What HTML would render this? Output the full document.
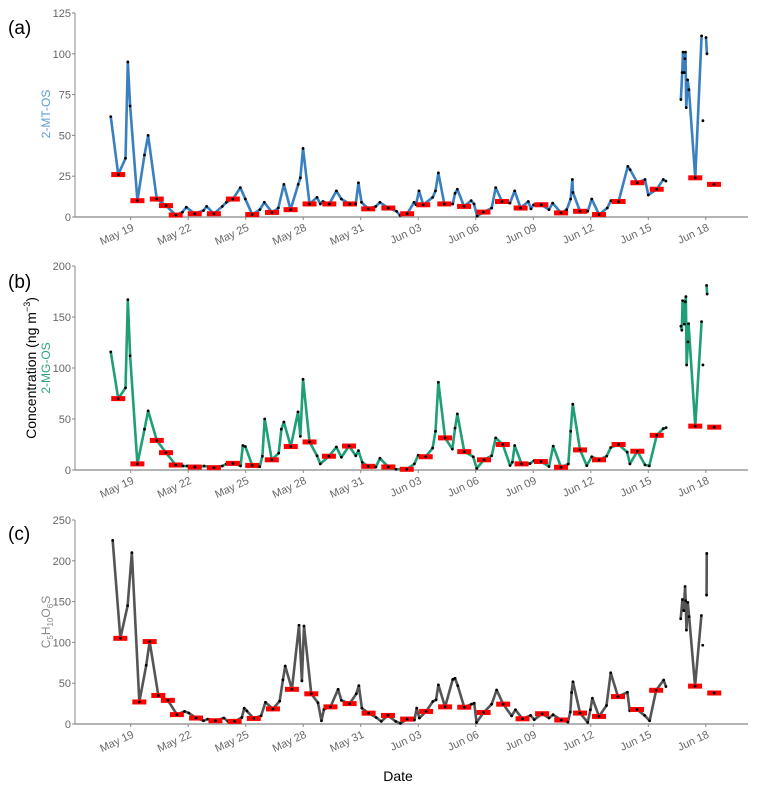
<!DOCTYPE html>
<html><head><meta charset="utf-8">
<style>
html,body{margin:0;padding:0;background:#fff;}
svg{display:block;font-family:"Liberation Sans",sans-serif;}
</style></head>
<body>
<svg id="chart" width="762" height="792" viewBox="0 0 762 792" xmlns="http://www.w3.org/2000/svg">
<text x="8" y="34" font-size="19" fill="#000">(a)</text>
<text x="8" y="288" font-size="19" fill="#000">(b)</text>
<text x="8" y="540" font-size="19" fill="#000">(c)</text>
<text transform="translate(50,114) rotate(-90)" text-anchor="middle" font-size="12" fill="#5b9bd5">2-MT-OS</text>
<text transform="translate(50,368) rotate(-90)" text-anchor="middle" font-size="12" fill="#2aa37e">2-MG-OS</text>
<text transform="translate(36,368) rotate(-90)" text-anchor="middle" font-size="14" fill="#000">Concentration  (ng m<tspan font-size="9" dy="-6">−3</tspan><tspan dy="6">)</tspan></text>
<text transform="translate(50,622) rotate(-90)" text-anchor="middle" font-size="12" fill="#888">C<tspan font-size="8" dy="3">5</tspan><tspan dy="-3">H</tspan><tspan font-size="8" dy="3">10</tspan><tspan dy="-3">O</tspan><tspan font-size="8" dy="3">6</tspan><tspan dy="-3">S</tspan></text>
<text x="398" y="781" text-anchor="middle" font-size="14" fill="#000">Date</text>
</svg>
<script>
const xTickLabels = ["May 19","May 22","May 25","May 28","May 31","Jun 03","Jun 06","Jun 09","Jun 12","Jun 15","Jun 18"];
const xTickDays = [0,3,6,9,12,15,18,21,24,27,30];
const aTicks = [0,25,50,75,100,125];
const bTicks = [0,50,100,150,200];
const cTicks = [0,50,100,150,200,250];

const aDays = [-1.04,-0.65,-0.27,-0.15,-0.03,0.35,0.72,0.91,1.36,1.84,2.35,2.7,2.9,3.34,3.8,3.96,4.34,4.78,4.99,5.33,5.72,5.98,6.34,6.74,6.97,7.37,7.7,7.99,8.34,8.74,8.85,8.99,9.33,9.72,9.89,10.03,10.36,10.73,10.99,11.43,11.74,11.88,12.04,12.39,12.79,13,13.44,13.87,14.05,14.42,14.78,14.88,15.04,15.26,15.75,15.9,16.05,16.36,16.8,16.92,17.04,17.39,17.76,17.91,18.07,18.4,18.83,19.04,19.37,19.78,20.03,20.34,20.74,20.88,21.02,21.42,21.82,22.01,22.45,22.74,22.95,23.04,23.07,23.44,23.84,24.05,24.43,24.86,25.05,25.45,25.93,26.05,26.43,26.83,27,27.44,27.78,27.92,null,28.7,28.77,28.81,28.88,28.91,28.94,28.98,29.05,29.12,29.45,29.78,null,29.85,null,30.01,30.06,null,30.43];
const aVals = [61.5,26,36,95,68,10,38,50,11,7,1.2,3,6,2,4,6.5,2,6.5,9,11,18,11,1.5,4.5,9,2.8,5.5,20,4.5,20,24,42,8,12,8,9.5,8,16,11,8,8,21,9,5,6.5,9,5.5,3.5,1,2,9,7.5,16,7.5,12,16,27,8,8,14.5,17,6.5,10,8,0.5,3,5.5,18,9.5,8.5,16,5.5,9.5,5,7.5,7.5,4.5,8.5,2.5,4.5,11,23,15,3.5,3.5,11,1.5,5.5,10,9.5,31,29,21,23,13.5,17,23,22,null,72,88.5,101,88.5,97,101,67,84,78,24,111,null,59,null,110,100,null,20];
const aFilter = [0,1,0,0,0,1,0,0,1,1,1,0,0,1,0,0,1,0,0,1,0,0,1,0,0,1,0,0,1,0,0,0,1,0,0,0,1,0,0,1,0,0,0,1,0,0,1,0,0,1,0,0,0,1,0,0,0,1,0,0,0,1,0,0,0,1,0,0,1,0,0,1,0,0,0,1,0,0,1,0,0,0,0,1,0,0,1,0,0,1,0,0,1,0,0,1,0,0,0,0,0,0,0,0,0,0,0,0,1,0,0,0,0,0,0,0,1];

const bDays = [-1.04,-0.65,-0.27,-0.15,-0.03,0.35,0.72,0.91,1.36,1.84,2.35,2.73,2.94,3.34,3.83,4.34,4.78,4.99,5.33,5.73,5.85,5.98,6.34,6.73,6.87,6.99,7.36,7.72,7.86,7.99,8.35,8.73,8.85,8.99,9.33,9.72,9.89,10.34,10.73,10.99,11.39,11.74,11.88,12.08,12.39,12.79,13,13.44,13.84,14.4,14.8,15.0,15.39,15.75,15.9,16.05,16.4,16.78,16.92,17.04,17.4,17.87,18.05,18.43,18.83,19.04,19.41,19.79,19.91,20.03,20.39,20.83,21.04,21.4,21.82,22.04,22.45,22.83,22.95,23.06,23.44,23.79,24.05,24.43,24.83,25.04,25.45,25.9,26.04,26.43,26.83,27.05,27.44,27.78,27.93,null,28.7,28.75,28.79,28.88,28.93,28.96,29,29.07,29.1,29.45,29.78,null,29.85,null,30.04,30.07,null,30.44];
const bVals = [115.8,70,80.5,167,112,6,40,58,29,17,4.9,4,3.9,2.9,3.9,2.3,3.9,6,6.5,4,24,23,4.5,3.3,13.5,50,10,16.5,40,47,23,57,33,89,27.5,14,6,13.5,22.5,12.5,23.5,14,19,7.5,3.6,3,11.5,3,0.7,0.7,6,14.5,13,21.5,38,86,31.5,20.5,41,55,18,13,1.6,10,14,31.5,25,4.4,7.6,24,6,6.3,9.2,8.3,3.4,23.4,2.7,5.9,38,64.5,19.7,4.3,13,10,13.6,22,25,17.5,6,18.4,5,4,34,40.5,41.5,null,141,137,166,143,165,170,103,125.6,143.5,43,145.5,null,103,null,181,172.5,null,42];
const bFilter = [0,1,0,0,0,1,0,0,1,1,1,0,0,1,0,1,0,0,1,0,0,0,1,0,0,0,1,0,0,0,1,0,0,0,1,0,0,1,0,0,1,0,0,0,1,0,0,1,0,1,0,0,1,0,0,0,1,0,0,0,1,0,0,1,0,0,1,0,0,0,1,0,0,1,0,0,1,0,0,0,1,0,0,1,0,0,1,0,0,1,0,0,1,0,0,0,0,0,0,0,0,0,0,0,0,1,0,0,0,0,0,0,0,1];

const cDays = [-0.94,-0.54,-0.16,0.06,0.45,0.81,0.99,1.44,1.94,2.41,2.81,3.03,3.41,3.8,4.02,4.42,4.86,5.07,5.42,5.8,5.92,6.06,6.42,6.8,7.03,7.42,7.77,7.94,8.06,8.41,8.78,8.93,9.04,9.42,9.77,9.95,10.08,10.42,10.82,10.99,11.42,11.77,11.9,12.06,12.41,12.81,13.07,13.42,13.82,14.07,14.42,14.8,14.92,15.06,15.41,15.76,15.93,16.05,16.4,16.8,16.92,17.06,17.4,17.78,17.92,18.04,18.41,18.83,19.09,19.43,19.87,20.07,20.44,20.86,21.05,21.46,21.82,22.03,22.46,22.81,22.93,23,23.07,23.44,23.84,23.98,24.08,24.43,24.82,25.04,25.42,25.91,26.03,26.41,26.81,27.07,27.41,27.8,27.92,null,28.69,28.78,28.85,28.92,28.95,28.99,29.06,29.13,29.44,29.77,null,29.84,null,30.04,30.05,null,30.44];
const cVals = [225,105,145,210,27,72,101,35,29,11.5,15.5,13.5,7.3,4,6,4,7.3,3.2,3.2,8,19.4,16,6.8,10,26.6,18.5,28,54,71,42.5,121,52.9,120,37,26,4,18,21,42.5,29,25,37,47,19.4,13.3,8,3.2,10.5,3.2,0.8,6,4.9,19.4,7.3,15.4,27.6,29.6,47.9,21,54.7,56,47,20.6,24.3,25.5,1.9,14.1,24.3,41.7,24.3,10,17.4,6.4,10.5,5.3,12.6,7.3,11.4,4.9,2.4,14.6,38.5,51.8,13.4,2,17.4,31.6,9.3,22.6,62.7,33.6,38.9,16.2,17.8,10.5,4,41.3,53.9,45.8,null,129,152.5,139,168.5,151,115,149,131.6,46.4,133,null,96.5,null,158,209,null,38];
const cFilter = [0,1,0,0,1,0,1,1,1,1,0,0,1,0,0,1,0,0,1,0,0,0,1,0,0,1,0,0,0,1,0,0,0,1,0,0,0,1,0,0,1,0,0,0,1,0,0,1,0,0,1,0,0,0,1,0,0,0,1,0,0,0,1,0,0,0,1,0,0,1,0,0,1,0,0,1,0,0,1,0,0,0,0,1,0,0,0,1,0,0,1,0,0,1,0,0,1,0,0,0,0,0,0,0,0,0,0,0,1,0,0,0,0,0,0,0,1];

const NS = "http://www.w3.org/2000/svg";
const svg = document.getElementById('chart');
function mk(tag, attrs, parent){const e=document.createElementNS(NS,tag);for(const k in attrs)e.setAttribute(k,attrs[k]);(parent||svg).appendChild(e);return e;}
const xScale = d => 130.7 + 19.17*d;
const xLeft = 75, xRight = 748;

function panel(id, y0, yTop, max, ticks, days, vals, filt, color){
  const yScale = v => y0 - (y0-yTop)*v/max;
  const g = mk('g',{});
  
  
  const yAx = mk('line',{x1:xLeft,x2:xLeft,y1:yTop,y2:y0,stroke:'#888','stroke-width':1},g);
  
  
  const xAx = mk('line',{x1:xLeft,x2:xRight,y1:y0,y2:y0,stroke:'#888','stroke-width':1.2},g);
  
  
  ticks.forEach(t=>{
    const y=yScale(t);
    mk('line',{x1:xLeft-3,x2:xLeft,y1:y,y2:y,stroke:'#888'},g);
    const tx=mk('text',{x:xLeft-4,y:y+4,'text-anchor':'end','font-size':11,fill:'#666'},g);
    tx.textContent=t;
    
    
  });
  xTickDays.forEach((d,i)=>{
    const x=xScale(d);
    mk('line',{x1:x,x2:x,y1:y0,y2:y0+3,stroke:'#888'},g);
    const tx=mk('text',{transform:`translate(${x+4},${y0+13}) rotate(-25)`,'text-anchor':'end','font-size':11,fill:'#666'},g);
    tx.textContent=xTickLabels[i];
    
    
  });
  // line segments
  let segs=[],cur=[];
  days.forEach((d,i)=>{ if(d===null||vals[i]===null){ if(cur.length) segs.push(cur); cur=[]; } else cur.push([xScale(d),yScale(vals[i])]); });
  if(cur.length) segs.push(cur);
  segs.forEach(s=>{
    if(s.length<2) return;
    const p=mk('polyline',{points:s.map(q=>q.join(',')).join(' '),fill:'none',stroke:color,'stroke-width':2.6,'stroke-linejoin':'round'},g);
    
    
  });
  days.forEach((d,i)=>{
    if(d===null||vals[i]===null) return;
    const x=xScale(d), y=yScale(vals[i]);
    if(filt[i]){
      const r=mk('rect',{x:x-7,y:y-2.5,width:14,height:5,fill:'#ff0000'},g);
      
      
    }
    const c=mk('circle',{cx:x,cy:y,r:1.4,fill:'#000'},g);
    
    
  });
}
panel('a',217,13,125,aTicks,aDays,aVals,aFilter,'#3a7fc0');
panel('b',470,266,200,bTicks,bDays,bVals,bFilter,'#1f9e77');
panel('c',724,520,250,cTicks,cDays,cVals,cFilter,'#555555');
</script>
</body></html>
